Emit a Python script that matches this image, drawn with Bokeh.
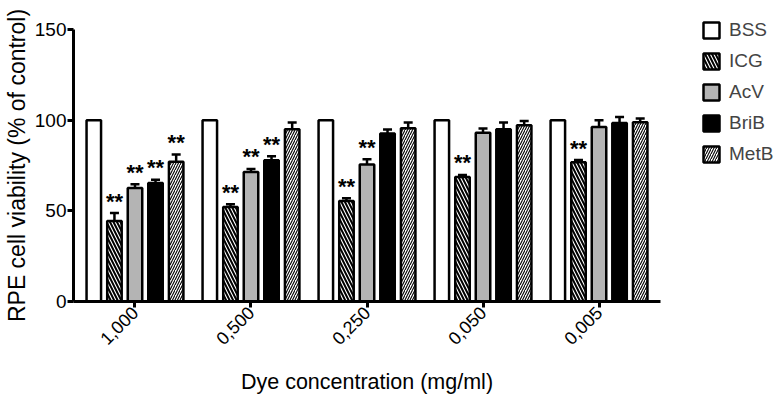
from math import pi
from bokeh.plotting import figure
from bokeh.models import (ColumnDataSource, FactorRange, Range1d, Legend, LegendItem,
                          Whisker, TeeHead, FixedTicker)
from bokeh.transform import dodge
from bokeh.core.properties import value
from bokeh.embed import file_html
from bokeh.resources import INLINE

concentrations = ["1,000", "0,500", "0,250", "0,050", "0,005"]
series_names = ["BSS", "ICG", "AcV", "BriB", "MetB"]
y_ticks = [0, 50, 100, 150]

bss = [100, 100, 100, 100, 100]
bss_sem = [0, 0, 0, 0, 0]
icg = [44.4, 52.1, 55.4, 68.7, 76.8]
icg_sem = [4.4, 1.5, 1.5, 1.1, 1.2]
acv = [62.6, 71.4, 75.5, 93.0, 96.3]
acv_sem = [2.0, 1.7, 3.0, 2.4, 3.7]
brib = [65.4, 77.9, 92.6, 95.0, 98.5]
brib_sem = [1.8, 2.2, 2.3, 3.7, 3.3]
metb = [77.0, 95.0, 95.6, 97.2, 98.9]
metb_sem = [4.0, 3.7, 3.1, 2.4, 2.0]

bss_sig = ["", "", "", "", ""]
icg_sig = ["**", "**", "**", "**", "**"]
acv_sig = ["**", "**", "**", "", ""]
brib_sig = ["**", "**", "", "", ""]
metb_sig = ["**", "", "", "", ""]

FONT = "Liberation Sans"

p = figure(x_range=FactorRange(*concentrations, range_padding=0.03, range_padding_units="absolute"),
           y_range=Range1d(0, 150), frame_width=587, frame_height=272,
           min_border_left=70, min_border_right=125, min_border_top=29, min_border_bottom=103,
           output_backend="svg", toolbar_location=None)
p.outline_line_color = None
p.xgrid.grid_line_color = None
p.ygrid.grid_line_color = None

styles = [
    dict(fill_color="white"),
    dict(fill_color="white", hatch_pattern="left_diagonal_line", hatch_color="black",
         hatch_scale=7, hatch_weight=2),
    dict(fill_color="#b4b4b4"),
    dict(fill_color="black"),
    dict(fill_color="white", hatch_pattern="right_diagonal_line", hatch_color="black",
         hatch_scale=5, hatch_weight=1.1),
]
offsets = [-0.355, -0.177, 0.0, 0.177, 0.355]
data = [(bss, bss_sem, bss_sig), (icg, icg_sem, icg_sig), (acv, acv_sem, acv_sig),
        (brib, brib_sem, brib_sig), (metb, metb_sem, metb_sig)]

items = []
for name, (vals, sem, sig), st, off in zip(series_names, data, styles, offsets):
    src = ColumnDataSource(dict(x=concentrations, top=vals,
                                upper=[v + s for v, s in zip(vals, sem)], sig=sig))
    r = p.vbar(x=dodge("x", off, range=p.x_range), top="top", width=0.125, source=src,
               line_color="black", line_width=2.5, **st)
    items.append(LegendItem(label=name, renderers=[r]))
    if any(s > 0 for s in sem):
        w = Whisker(base=dodge("x", off, range=p.x_range), upper="upper", lower="top",
                    source=src, lower_head=None,
                    upper_head=TeeHead(size=9, line_width=2.5, line_color="black"),
                    line_width=2.5, line_color="black", level="glyph")
        p.add_layout(w)
    p.text(x=dodge("x", off, range=p.x_range), y="upper", text="sig", source=src,
           text_align="center", text_baseline="alphabetic", y_offset=-12,
           text_font=value(FONT), text_font_style="bold", text_font_size="22px",
           text_color="black")

legend = Legend(items=items, location=(41, 136), border_line_color=None,
                background_fill_alpha=0, padding=0, margin=0, spacing=9, glyph_width=20,
                glyph_height=20, label_height=20, label_standoff=8,
                label_text_font=FONT, label_text_font_size="19px")
p.add_layout(legend, "right")

p.yaxis.ticker = FixedTicker(ticks=y_ticks)
p.yaxis.axis_label = "RPE cell viability (% of control)"
p.xaxis.axis_label = "Dye concentration (mg/ml)"
for ax in (p.xaxis, p.yaxis):
    ax.axis_line_width = 3
    ax.major_tick_line_width = 3
    ax.major_tick_out = 6
    ax.major_tick_in = 0
    ax.minor_tick_line_color = None
    ax.major_label_text_font = FONT
    ax.axis_label_text_font = FONT
    ax.axis_label_text_font_style = "normal"
    ax.major_label_text_color = "black"
    ax.axis_label_text_color = "black"
p.yaxis.major_label_text_font_size = "19px"
p.yaxis.axis_label_text_font_size = "23px"
p.yaxis.major_label_standoff = 1
p.yaxis.axis_label_standoff = 2
p.xaxis.major_label_text_font_size = "18px"
p.xaxis.major_label_orientation = pi / 4
p.xaxis.major_label_standoff = 2
p.xaxis.axis_label_text_font_size = "21.5px"
p.xaxis.axis_label_standoff = 16

open("out.html", "w").write(file_html(p, INLINE))
